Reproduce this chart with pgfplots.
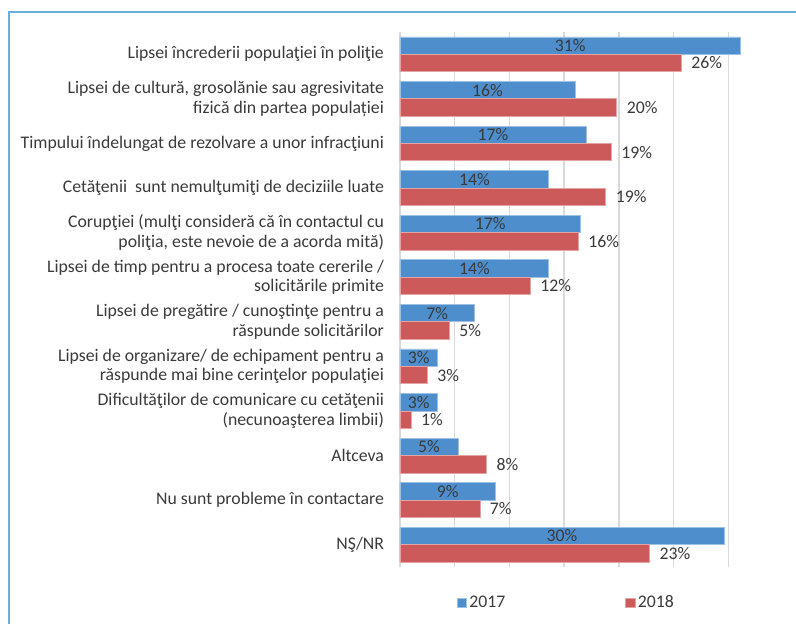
\documentclass[border=0pt]{standalone}
\usepackage{fontspec}
\setmainfont{Carlito}
\usepackage{pgfplots}
\pgfplotsset{compat=1.18}
\definecolor{c17}{HTML}{4E8ECC}
\definecolor{c18}{HTML}{CD5A5A}
\definecolor{gridc}{HTML}{D9D9D9}
\definecolor{txt}{HTML}{3A3A3A}
\definecolor{framec}{HTML}{6AAEE0}

\begin{document}
\begin{tikzpicture}
\useasboundingbox (-300pt,-42.75pt) rectangle (297pt,425.25pt);
\draw[framec, line width=2.2pt] (-293.25pt,-50pt) -- (-293.25pt,416.25pt) -- (310pt,416.25pt);
\begin{axis}[
  xbar,
  x=8.207pt, y=33.44pt,
  xmin=0, xmax=35, ymin=-0.5, ymax=11.5,
  bar width=0.39,
  clip=false,
  font=\fontsize{13.3}{14.5}\selectfont,
  axis line style={draw=none},
  major tick length=0pt,
  xtick={0,5,...,30},
  xticklabels={},
  xmajorgrids,
  grid style={gridc, line width=1pt},
  ytick={0,...,11},
  yticklabels={
    {NŞ/NR},
    {Nu sunt probleme în contactare},
    {Altceva},
    {Dificultăţilor de comunicare cu cetăţenii\\(necunoaşterea limbii)},
    {Lipsei de organizare/ de echipament pentru a\\răspunde mai bine cerinţelor populaţiei},
    {Lipsei de pregătire / cunoştinţe pentru a\\răspunde solicitărilor},
    {Lipsei de timp pentru a procesa toate cererile /\\solicitările primite},
    {Corupţiei (mulţi consideră că în contactul cu\\poliţia, este nevoie de a acorda mită)},
    {Cetăţenii \ sunt nemulţumiţi de deciziile luate},
    {Timpului îndelungat de rezolvare a unor infracţiuni},
    {Lipsei de cultură, grosolănie sau agresivitate\\fizică din partea populației},
    {Lipsei încrederii populaţiei în poliţie}
  },
  yticklabel style={align=right, text=txt, xshift=-8.5pt, font=\fontsize{13.3}{14.5}\selectfont},
  point meta=explicit symbolic,
  legend columns=2,
  legend style={at={(0.435,-0.067)}, anchor=center, draw=none, text=txt,
    font=\fontsize{13.3}{14.5}\selectfont,
    /tikz/every even column/.append style={column sep=88pt}},
  legend image code/.code={\fill[#1] (0pt,-3.5pt) rectangle (7pt,3.5pt);},
]
% 2017
\addplot[fill=c17, draw=c17!55!white, line width=0.5pt, bar shift=0.195,
  nodes near coords, visualization depends on={rawx \as \rawx},
  nodes near coords style={anchor=center, text=txt, xshift={-0.5*\rawx*8.207pt}}]
  coordinates {
  (31.1,11) [31\%]
  (16.0,10) [16\%]
  (17.0,9) [17\%]
  (13.6,8) [14\%]
  (16.5,7) [17\%]
  (13.6,6) [14\%]
  (6.8,5) [7\%]
  (3.4,4) [3\%]
  (3.4,3) [3\%]
  (5.3,2) [5\%]
  (8.7,1) [9\%]
  (29.6,0) [30\%]
};
% 2018
\addplot[fill=c18, draw=c18!55!white, line width=0.5pt, bar shift=-0.195,
  nodes near coords,
  nodes near coords style={anchor=west, text=txt, xshift=4pt}]
  coordinates {
  (25.7,11) [26\%]
  (19.8,10) [20\%]
  (19.3,9) [19\%]
  (18.8,8) [19\%]
  (16.3,7) [16\%]
  (11.9,6) [12\%]
  (4.5,5) [5\%]
  (2.5,4) [3\%]
  (1.0,3) [1\%]
  (7.9,2) [8\%]
  (7.3,1) [7\%]
  (22.8,0) [23\%]
};
\legend{2017,2018}
\end{axis}
\end{tikzpicture}
\end{document}
